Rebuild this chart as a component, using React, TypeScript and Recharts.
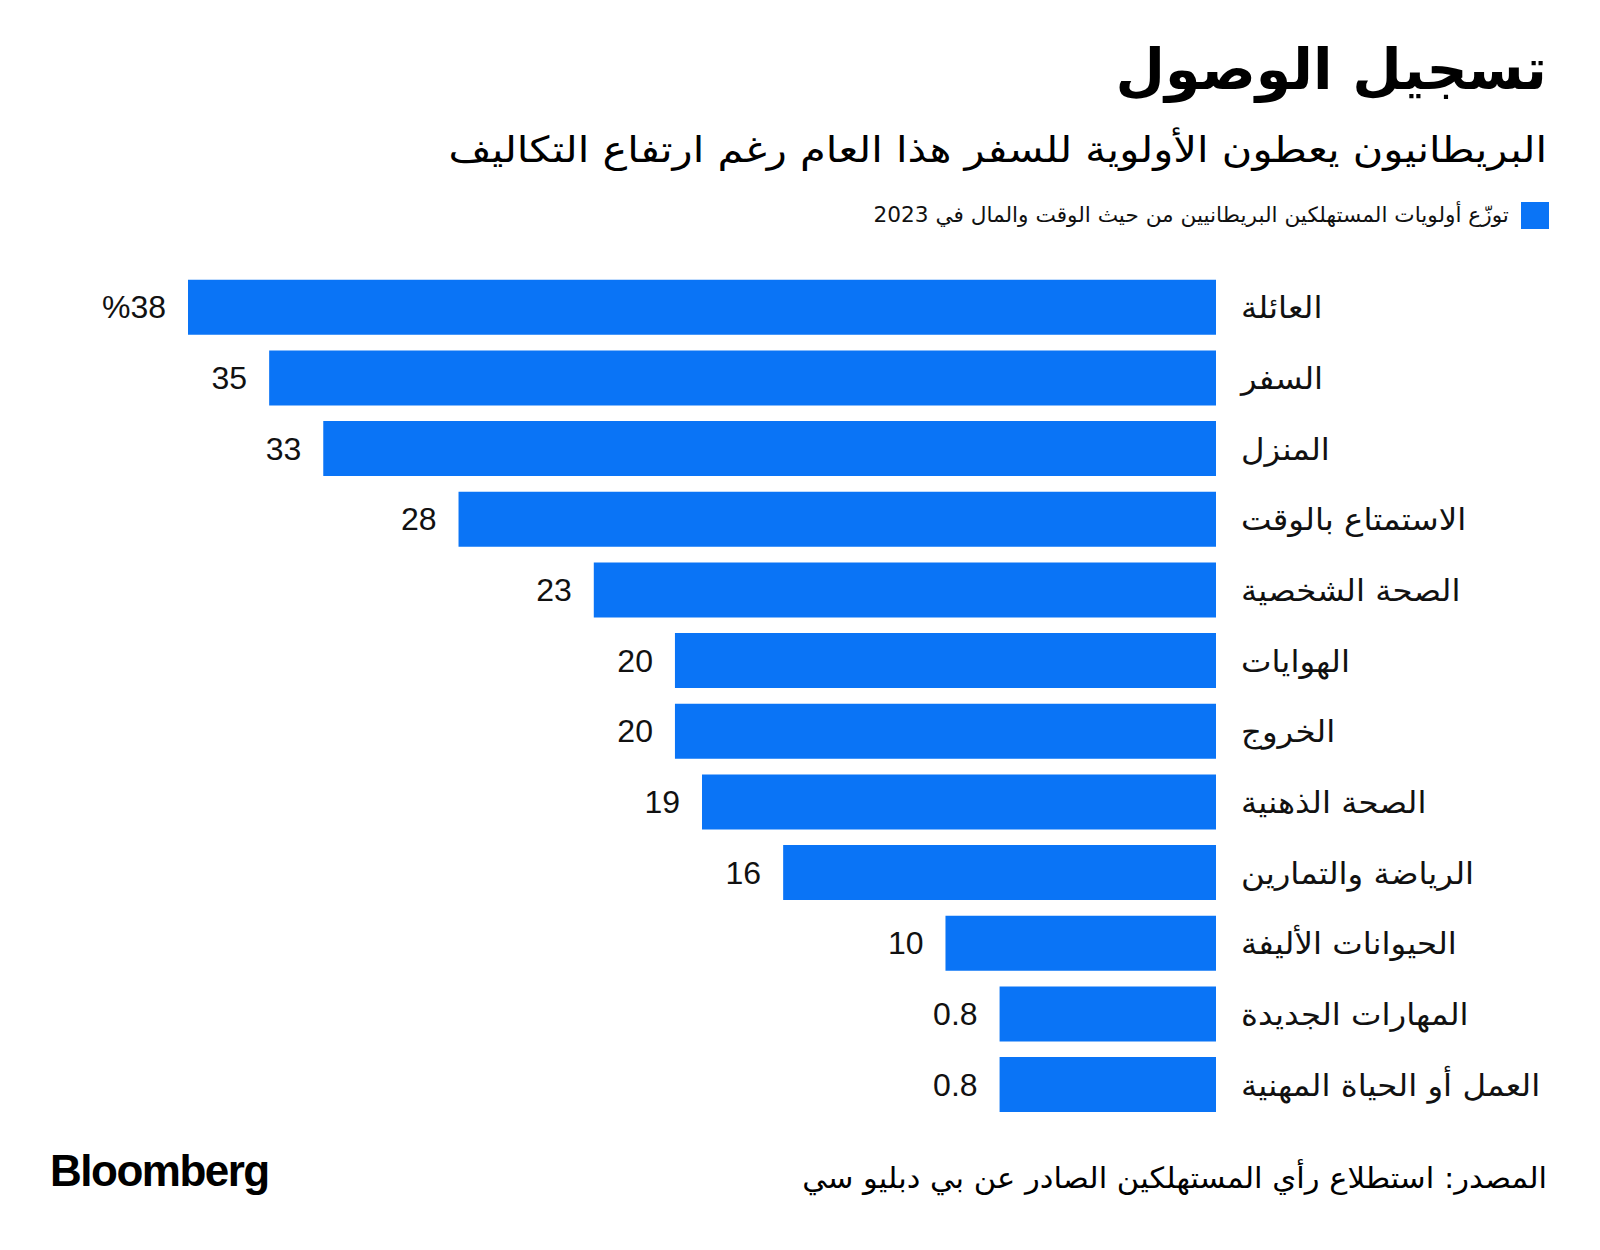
import React from "react";
import { BarChart, Bar, XAxis, YAxis, LabelList } from "recharts";

const categories = [
  "العائلة",
  "السفر",
  "المنزل",
  "الاستمتاع بالوقت",
  "الصحة الشخصية",
  "الهوايات",
  "الخروج",
  "الصحة الذهنية",
  "الرياضة والتمارين",
  "الحيوانات الأليفة",
  "المهارات الجديدة",
  "العمل أو الحياة المهنية",
];

// bar lengths
const shares = [38, 35, 33, 28, 23, 20, 20, 19, 16, 10, 8, 8];

// labels exactly as printed next to the bars
const shareLabels = ["%38", "35", "33", "28", "23", "20", "20", "19", "16", "10", "0.8", "0.8"];

const BLUE = "#0a74f6";
const ARABIC = "'DejaVu Sans', sans-serif";
const LATIN = "'Liberation Sans', Arial, sans-serif";

const rows = categories.map((name, i) => ({
  name,
  value: shares[i],
  label: shareLabels[i],
}));

const CategoryTick = (props: any) => {
  const { x, y, payload } = props;
  // the source font is wider than DejaVu, so stretch a little
  return (
    <text
      transform={`translate(${x},${y + 11}) scale(1.08,1)`}
      textAnchor="start"
      fontFamily={ARABIC}
      fontSize={30}
      fill="#111"
    >
      {payload.value}
    </text>
  );
};

const ValueLabel = (props: any) => {
  const { x, y, width, height, index } = props;
  const left = Math.min(x, x + width);
  return (
    <text
      x={left - 22}
      y={y + height / 2}
      dy={11}
      textAnchor="end"
      fontFamily={LATIN}
      fontSize={32}
      fill="#111"
    >
      {shareLabels[index]}
    </text>
  );
};

export default function App() {
  return (
    <div
      style={{
        position: "absolute",
        left: 0,
        top: 0,
        width: 1600,
        height: 1250,
        background: "#fff",
        overflow: "hidden",
      }}
    >
      {/* Headline block */}
      <div
        dir="rtl"
        style={{
          position: "absolute",
          right: 53,
          top: 34,
          fontFamily: ARABIC,
          fontWeight: 700,
          fontSize: 57,
          lineHeight: "70px",
          color: "#000",
          whiteSpace: "nowrap",
        }}
      >
        تسجيل الوصول
      </div>
      <div
        dir="rtl"
        style={{
          position: "absolute",
          right: 53,
          top: 126,
          fontFamily: ARABIC,
          fontSize: 36,
          lineHeight: "48px",
          color: "#000",
          whiteSpace: "nowrap",
          transform: "scaleX(1.155)",
          transformOrigin: "right center",
        }}
      >
        البريطانيون يعطون الأولوية للسفر هذا العام رغم ارتفاع التكاليف
      </div>

      {/* Legend */}
      <div
        style={{
          position: "absolute",
          left: 1521,
          top: 202,
          width: 28,
          height: 27,
          background: BLUE,
        }}
      />
      <div
        dir="rtl"
        style={{
          position: "absolute",
          right: 91,
          top: 201,
          fontFamily: ARABIC,
          fontSize: 21,
          lineHeight: "28px",
          color: "#111",
          whiteSpace: "nowrap",
          transform: "scaleX(1.03)",
          transformOrigin: "right center",
        }}
      >
        توزّع أولويات المستهلكين البريطانيين من حيث الوقت والمال في 2023
      </div>

      <div style={{ position: "absolute", left: 0, top: 0 }}>
        <BarChart
          width={1600}
          height={1250}
          data={rows}
          layout="vertical"
          margin={{ top: 272, right: 44, bottom: 130, left: 188 }}
          barCategoryGap="11%"
        >
          <XAxis type="number" domain={[0, 38]} reversed hide />
          <YAxis
            type="category"
            dataKey="name"
            orientation="right"
            width={340}
            axisLine={false}
            tickLine={false}
            tickSize={0}
            tickMargin={25}
            interval={0}
            tick={<CategoryTick />}
          />
          <Bar dataKey="value" fill={BLUE} isAnimationActive={false}>
            <LabelList dataKey="label" content={<ValueLabel />} />
          </Bar>
        </BarChart>
      </div>

      {/* Footer */}
      <div
        style={{
          position: "absolute",
          left: 50,
          top: 1146,
          fontFamily: LATIN,
          fontWeight: 700,
          fontSize: 44,
          letterSpacing: -1.5,
          lineHeight: "50px",
          color: "#000",
        }}
      >
        Bloomberg
      </div>
      <div
        dir="rtl"
        style={{
          position: "absolute",
          right: 53,
          top: 1158,
          fontFamily: ARABIC,
          fontSize: 29,
          lineHeight: "40px",
          color: "#000",
          whiteSpace: "nowrap",
          transform: "scaleX(1.055)",
          transformOrigin: "right center",
        }}
      >
        المصدر: استطلاع رأي المستهلكين الصادر عن بي دبليو سي
      </div>
    </div>
  );
}
